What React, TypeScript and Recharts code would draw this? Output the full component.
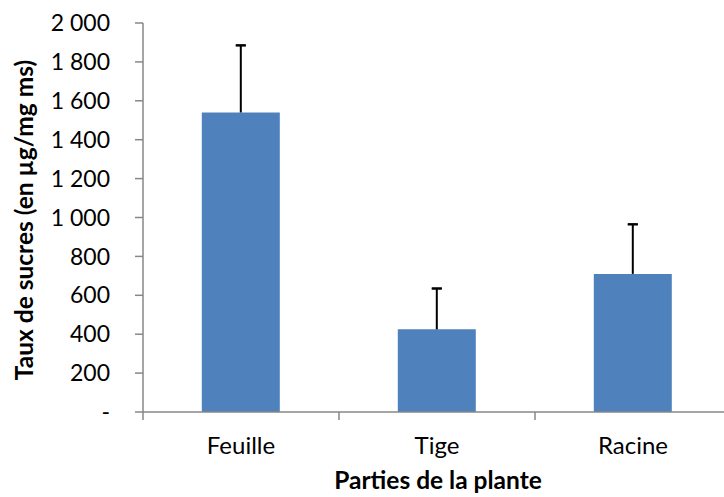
import React from "react";
import { BarChart, Bar, XAxis, YAxis, ErrorBar, Label } from "recharts";

const categories = ["Feuille", "Tige", "Racine"];
const sugarValues = [1540, 425, 710];
const sugarErrors = [345, 210, 255];
const yTicks = [0, 200, 400, 600, 800, 1000, 1200, 1400, 1600, 1800, 2000];

const data = categories.map((name, i) => ({
  name,
  value: sugarValues[i],
  // vertical whisker only (no cap at bar top)
  errLine: [0, sugarErrors[i]],
  // zero-length segment at the top, drawn with caps only
  errCap: [-sugarErrors[i], sugarErrors[i]]
}));

const CHART_W = 740;
const CHART_H = 497;
const Y_AXIS_W = 143;
const MARGIN = { top: 23, right: 9, left: 0, bottom: 0 };
const BAND = (CHART_W - MARGIN.right - MARGIN.left - Y_AXIS_W) / categories.length;

const FONT = "Lato, 'Open Sans', sans-serif";
const AXIS_COLOR = "#878787";

function formatTick(v: number) {
  if (v === 0) return "-";
  const s = String(v);
  return s.replace(/\B(?=(\d{3})+(?!\d))/g, " ");
}

function CategoryTick(props: any) {
  const { x, y, payload, index } = props;
  const axisY = y - 8;
  return (
    <g>
      <line x1={x - BAND / 2} x2={x - BAND / 2} y1={axisY} y2={axisY + 8} stroke={AXIS_COLOR} strokeWidth={1.5} />
      {index === categories.length - 1 && (
        <line x1={x + BAND / 2} x2={x + BAND / 2} y1={axisY} y2={axisY + 8} stroke={AXIS_COLOR} strokeWidth={1.5} />
      )}
      <text x={x} y={axisY + 42} textAnchor="middle" fontFamily={FONT} fontSize={24} fill="#000">
        {payload.value}
      </text>
    </g>
  );
}

export default function App() {
  return (
    <div style={{ position: "fixed", left: 0, top: 0, width: 724, height: 497, overflow: "hidden", background: "#fff" }}>
      <BarChart width={CHART_W} height={CHART_H} data={data} margin={MARGIN} barCategoryGap="30%">
        <XAxis
          dataKey="name"
          height={85}
          tickSize={8}
          tickMargin={0}
          tickLine={false}
          axisLine={{ stroke: AXIS_COLOR, strokeWidth: 1.5 }}
          tick={<CategoryTick />}
          interval={0}
        >
          <Label
            content={() => (
              <text x={438} y={489} textAnchor="middle" fontFamily={FONT} fontSize={24.5} fontWeight="bold" fill="#000">
                Parties de la plante
              </text>
            )}
          />
        </XAxis>
        <YAxis
          width={Y_AXIS_W}
          domain={[0, 2000]}
          ticks={yTicks}
          interval={0}
          tickFormatter={formatTick}
          tickSize={8}
          tickMargin={25}
          axisLine={{ stroke: AXIS_COLOR, strokeWidth: 1.5 }}
          tickLine={{ stroke: AXIS_COLOR, strokeWidth: 1.5 }}
          tick={{ fontFamily: FONT, fontSize: 23, fill: "#000" }}
        >
          <Label
            content={() => (
              <text
                x={23}
                y={220}
                transform="rotate(-90 23 220)"
                textAnchor="middle"
                dominantBaseline="central"
                fontFamily={FONT}
                fontSize={24.5}
                fontWeight="bold"
                fill="#000"
              >
                Taux de sucres (en µg/mg ms)
              </text>
            )}
          />
        </YAxis>
        <Bar dataKey="value" fill="#4F81BD" isAnimationActive={false}>
          <ErrorBar dataKey="errLine" direction="y" width={0} stroke="#000" strokeWidth={2} />
          <ErrorBar dataKey="errCap" direction="y" width={5} stroke="#000" strokeWidth={2} />
        </Bar>
      </BarChart>
    </div>
  );
}
